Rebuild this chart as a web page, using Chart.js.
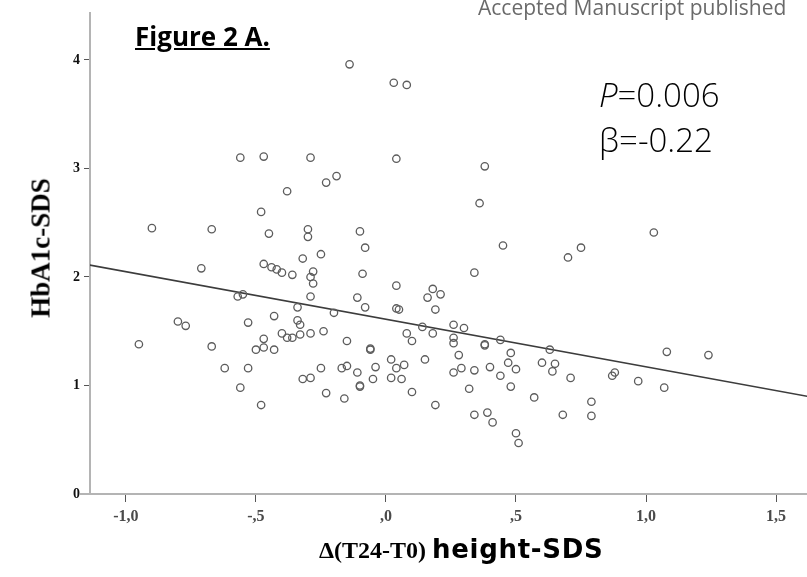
<!DOCTYPE html>
<html lang="en">
<head>
    <meta charset="UTF-8">
    <title>Figure 2 A</title>
    <script src="https://cdn.jsdelivr.net/npm/chart.js"></script>
    <style>
        body {
            margin: 0;
            background: #fff;
            overflow: hidden;
        }
        .wrap {
            position: relative;
            width: 807px;
            height: 577px;
            overflow: hidden;
        }
        .txt {
            position: absolute;
            white-space: nowrap;
            line-height: 1;
        }
    </style>
</head>
<body>
    <div class="wrap">
        <canvas id="scatter" width="807" height="577"></canvas>

        <div class="txt" style="left:478px; top:-3px; font-family:'Open Sans'; font-size:21px; color:#6a6a6a;">Accepted Manuscript published</div>
        <div class="txt" style="left:135px; top:23px; font-family:'Open Sans'; font-weight:bold; font-size:26px; text-decoration:underline;">Figure 2 A.</div>
        <div class="txt" style="left:599px; top:78px; font-family:'Open Sans'; font-weight:300; font-size:33px;"><i>P</i>=0.006</div>
        <div class="txt" style="left:599px; top:123px; font-family:'Open Sans'; font-weight:300; font-size:33px;">β=-0.22</div>

        <!-- axis titles -->
        <div class="txt" style="left:319px; top:536px; font-family:'Liberation Serif'; font-weight:bold; font-size:24px;">Δ(T24-T0) <span style="font-family:'DejaVu Sans'; font-size:26px; letter-spacing:0.7px;">height-SDS</span></div>
        <div class="txt" style="left:41px; top:248px; transform:translate(-50%,-50%) rotate(-90deg); font-family:'Liberation Serif'; font-weight:bold; font-size:27px;">HbA1c-SDS</div>
    </div>

    <script>
        // values
        const xValues = [
            -0.14, 0.03, 0.08, -0.56, -0.47, -0.29, 0.04, 0.38, -0.19, -0.23,
            -0.38, 0.36, -0.48, -0.90, -0.67, -0.45, -0.30, -0.30, -0.10, 1.03,
            -0.08, 0.45, 0.75, 0.70, -0.25, -0.32, -0.71, -0.47, -0.44, -0.42,
            -0.40, -0.36, -0.28, -0.29, -0.28, -0.09, 0.34, 0.04, 0.18, 0.21,
            0.16, -0.57, -0.55, -0.29, -0.11, -0.08, 0.04, 0.05, 0.19, -0.20,
            -0.34, -0.43, -0.53, -0.80, -0.77, -0.34, -0.33, 0.26, 0.30, 0.14,
            0.18, 0.08, 0.10, -0.24, -0.29, -0.40, -0.38, -0.36, -0.33, -0.47,
            -0.50, -0.47, -0.43, -0.95, -0.67, -0.15, 0.26, 0.26, 0.38, 0.38,
            0.44, -0.06, -0.06, 0.48, 0.63, 0.28, 1.08, 1.24, 0.02, 0.07,
            0.04, 0.15, -0.25, -0.17, -0.15, -0.04, -0.11, -0.62, -0.53, -0.32,
            -0.29, -0.05, 0.02, 0.06, 0.26, 0.29, 0.34, 0.40, 0.44, 0.47,
            0.50, 0.60, 0.65, 0.64, 0.71, 0.87, 0.88, 0.97, 1.07, -0.56,
            -0.10, -0.10, -0.23, 0.10, 0.32, 0.48, -0.16, 0.19, 0.57, 0.79,
            -0.48, 0.34, 0.39, 0.41, 0.68, 0.79, 0.50, 0.51
        ];
        const yValues = [
            3.96, 3.79, 3.77, 3.10, 3.11, 3.10, 3.09, 3.02, 2.93, 2.87,
            2.79, 2.68, 2.60, 2.45, 2.44, 2.40, 2.44, 2.37, 2.42, 2.41,
            2.27, 2.29, 2.27, 2.18, 2.21, 2.17, 2.08, 2.12, 2.09, 2.07,
            2.04, 2.02, 2.05, 2.00, 1.94, 2.03, 2.04, 1.92, 1.89, 1.84,
            1.81, 1.82, 1.84, 1.82, 1.81, 1.72, 1.71, 1.70, 1.70, 1.67,
            1.72, 1.64, 1.58, 1.59, 1.55, 1.60, 1.56, 1.56, 1.53, 1.54,
            1.48, 1.48, 1.41, 1.50, 1.48, 1.48, 1.44, 1.44, 1.47, 1.43,
            1.33, 1.35, 1.33, 1.38, 1.36, 1.41, 1.44, 1.39, 1.37, 1.38,
            1.42, 1.34, 1.33, 1.30, 1.33, 1.28, 1.31, 1.28, 1.24, 1.19,
            1.16, 1.24, 1.16, 1.16, 1.18, 1.17, 1.12, 1.16, 1.16, 1.06,
            1.07, 1.06, 1.07, 1.06, 1.12, 1.16, 1.14, 1.17, 1.09, 1.21,
            1.15, 1.21, 1.20, 1.13, 1.07, 1.09, 1.12, 1.04, 0.98, 0.98,
            1.00, 0.99, 0.93, 0.94, 0.97, 0.99, 0.88, 0.82, 0.89, 0.85,
            0.82, 0.73, 0.75, 0.66, 0.73, 0.72, 0.56, 0.47
        ];

        // fitted line end points
        const fitX = [-1.14, 1.62];
        const fitY = [2.11, 0.90];

        const xTicks = [-1.0, -0.5, 0, 0.5, 1.0, 1.5];
        const xTickLabels = ['-1,0', '-,5', ',0', ',5', '1,0', '1,5'];
        const yTicks = [0, 1, 2, 3, 4];

        const points = xValues.map((x, i) => ({ x: x, y: yValues[i] }));
        const fitPoints = fitX.map((x, i) => ({ x: x, y: fitY[i] }));

        // x axis line runs a little past the y axis, as in the SPSS plot
        const axisStub = {
            id: 'axisStub',
            afterDraw(chart) {
                const c = chart.ctx, a = chart.chartArea;
                c.save();
                c.strokeStyle = '#b4b4b4';
                c.lineWidth = 2;
                c.beginPath();
                c.moveTo(80, a.bottom);
                c.lineTo(a.left, a.bottom);
                c.stroke();
                c.restore();
            }
        };

        const ctx = document.getElementById('scatter').getContext('2d');
        new Chart(ctx, {
            type: 'scatter',
            data: {
                datasets: [
                    {
                        data: points,
                        pointStyle: 'circle',
                        pointRadius: 3.7,
                        pointBorderWidth: 1.3,
                        borderColor: '#5c5c5c',
                        backgroundColor: 'rgba(0,0,0,0)'
                    },
                    {
                        data: fitPoints,
                        showLine: true,
                        pointRadius: 0,
                        borderColor: '#3c3c3c',
                        borderWidth: 1.6
                    }
                ]
            },
            options: {
                responsive: false,
                animation: false,
                layout: { autoPadding: false, padding: { top: 13, left: 0, right: 0, bottom: 0 } },
                plugins: {
                    legend: { display: false },
                    tooltip: { enabled: false }
                },
                scales: {
                    x: {
                        type: 'linear',
                        min: -1.138,
                        max: 1.619,
                        afterBuildTicks: scale => { scale.ticks = xTicks.map(v => ({ value: v })); },
                        afterFit: scale => { scale.height = 83; },
                        border: { color: '#b4b4b4', width: 2 },
                        grid: { drawOnChartArea: false, drawTicks: true, tickLength: 8, color: '#555' },
                        ticks: {
                            padding: 5,
                            color: '#4a4a4a',
                            font: { family: 'Liberation Serif', weight: 'bold', size: 16 },
                            callback: value => xTickLabels[xTicks.indexOf(value)]
                        }
                    },
                    y: {
                        type: 'linear',
                        min: 0,
                        max: 4.433,
                        afterBuildTicks: scale => { scale.ticks = yTicks.map(v => ({ value: v })); },
                        afterFit: scale => { scale.width = 90; },
                        border: { color: '#b4b4b4', width: 2 },
                        grid: { drawOnChartArea: false, drawTicks: true, tickLength: 6, color: '#555' },
                        ticks: {
                            padding: 4,
                            color: '#111',
                            font: { family: 'Liberation Serif', weight: 'bold', size: 14 }
                        }
                    }
                }
            },
            plugins: [axisStub]
        });
    </script>
</body>
</html>
